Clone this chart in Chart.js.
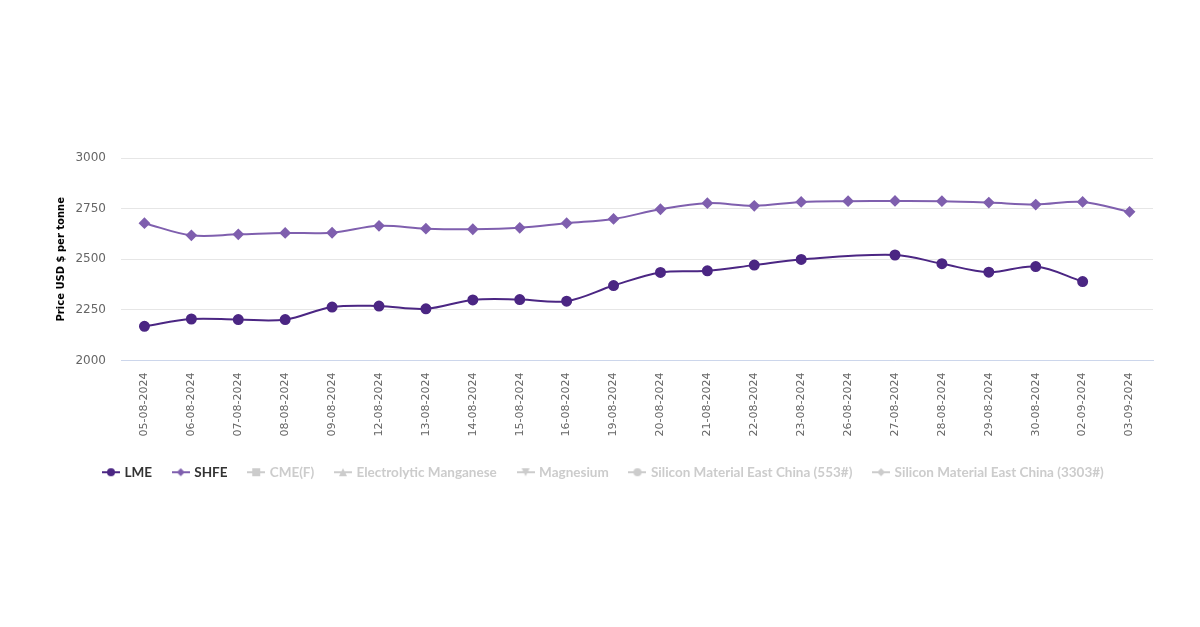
<!DOCTYPE html>
<html lang="en">
<head>
    <meta charset="UTF-8">
    <script src="https://cdn.jsdelivr.net/npm/chart.js"></script>
    <title>LME / SHFE price</title>
    <style>
        html, body { margin: 0; padding: 0; background: #fff; }
    </style>
</head>
<body>
    <canvas id="myChart" width="1200" height="627"></canvas>
    <script>
        const dates = ['05-08-2024','06-08-2024','07-08-2024','08-08-2024','09-08-2024','12-08-2024','13-08-2024',
            '14-08-2024','15-08-2024','16-08-2024','19-08-2024','20-08-2024','21-08-2024','22-08-2024',
            '23-08-2024','26-08-2024','27-08-2024','28-08-2024','29-08-2024','30-08-2024','02-09-2024','03-09-2024'];
        const lme = [2169, 2205, 2202, 2202, 2264, 2269, 2255, 2299, 2301, 2293, 2370, 2435, 2443, 2471,
            2499, null, 2521, 2478, 2436, 2464, 2390, null];
        const shfe = [2678, 2618, 2623, 2630, 2631, 2665, 2651, 2648, 2655, 2678, 2699, 2747, 2777, 2764,
            2783, 2787, 2788, 2787, 2780, 2770, 2783, 2734];
        const hiddenSeries = ['CME(F)', 'Electrolytic Manganese', 'Magnesium',
            'Silicon Material East China (553#)', 'Silicon Material East China (3303#)'];
        const hiddenShapes = ['rect', 'triangle', 'triangleDown', 'circle', 'rectRot'];

        const lmeColor = '#4b2683';
        const shfeColor = '#7f5fae';
        const greyColor = '#cccccc';

        // little legend icon: a line with the marker in the middle
        function legendIcon(color, shape) {
            const c = document.createElement('canvas');
            c.width = 18; c.height = 10;
            const g = c.getContext('2d');
            g.strokeStyle = color; g.fillStyle = color; g.lineWidth = 2;
            g.beginPath(); g.moveTo(0, 5); g.lineTo(18, 5); g.stroke();
            g.beginPath();
            if (shape === 'circle') g.arc(9, 5, 4, 0, Math.PI * 2);
            else if (shape === 'rectRot') { g.moveTo(9, 1); g.lineTo(13, 5); g.lineTo(9, 9); g.lineTo(5, 5); }
            else if (shape === 'rect') g.rect(5, 1, 8, 8);
            else if (shape === 'triangle') { g.moveTo(9, 1); g.lineTo(13, 9); g.lineTo(5, 9); }
            else if (shape === 'triangleDown') { g.moveTo(5, 1); g.lineTo(13, 1); g.lineTo(9, 9); }
            g.closePath(); g.fill();
            return c;
        }

        const datasets = [
            {
                label: 'LME', data: lme, borderColor: lmeColor, backgroundColor: lmeColor,
                borderWidth: 2, pointRadius: 4.5, pointStyle: 'circle', tension: 0.35, spanGaps: true,
                icon: legendIcon(lmeColor, 'circle'), textColor: '#333333'
            },
            {
                label: 'SHFE', data: shfe, borderColor: shfeColor, backgroundColor: shfeColor,
                borderWidth: 2, pointRadius: 4.5, pointStyle: 'rectRot', tension: 0.35, spanGaps: true,
                icon: legendIcon(shfeColor, 'rectRot'), textColor: '#333333'
            }
        ];
        hiddenSeries.forEach((name, i) => {
            datasets.push({
                label: name, data: [], borderColor: greyColor, backgroundColor: greyColor,
                icon: legendIcon(greyColor, hiddenShapes[i]), textColor: greyColor
            });
        });

        const ctx = document.getElementById('myChart');
        new Chart(ctx, {
            type: 'line',
            data: { labels: dates, datasets: datasets },
            options: {
                responsive: false,
                animation: false,
                layout: { padding: { top: 158, left: 55, right: 47, bottom: 138 } },
                plugins: {
                    tooltip: { enabled: false },
                    legend: {
                        position: 'bottom',
                        labels: {
                            usePointStyle: true,
                            boxHeight: 10,
                            padding: 22,
                            font: { family: 'Lato', size: 13.5, weight: 'bold' },
                            generateLabels(chart) {
                                return chart.data.datasets.map((ds, i) => ({
                                    text: ds.label,
                                    pointStyle: ds.icon,
                                    fontColor: ds.textColor,
                                    hidden: false,
                                    datasetIndex: i,
                                    lineWidth: 0
                                }));
                            }
                        }
                    }
                },
                scales: {
                    x: {
                        offset: true,
                        grid: { display: false },
                        border: { color: '#ccd6eb' },
                        afterFit(scale) { scale.height = 83; },
                        ticks: {
                            minRotation: 90, maxRotation: 90, autoSkip: false, padding: 4,
                            color: '#666666',
                            font: { family: 'DejaVu Sans', size: 11 }
                        }
                    },
                    y: {
                        min: 2000, max: 3000,
                        border: { display: false },
                        grid: { color: '#e6e6e6', drawTicks: false },
                        afterFit(scale) { scale.width = 66; },
                        ticks: {
                            stepSize: 250, padding: 15, color: '#666666',
                            font: { family: 'DejaVu Sans', size: 12 },
                            callback: (v) => String(v)
                        },
                        title: {
                            display: true, text: 'Price USD $ per tonne', color: '#000000',
                            font: { family: 'DejaVu Sans', size: 10, weight: 'bold' }, padding: 0
                        }
                    }
                }
            }
        });
    </script>
</body>
</html>
